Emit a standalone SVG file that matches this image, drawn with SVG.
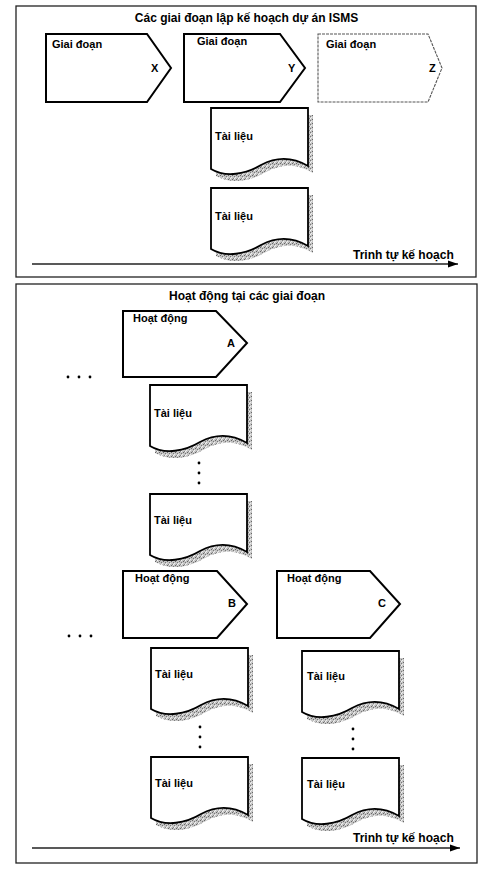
<svg xmlns="http://www.w3.org/2000/svg" width="484" height="875" viewBox="0 0 484 875">
<style>
.panel{fill:none;stroke:#222;stroke-width:1.3}
.pent{fill:#fff;stroke:#000;stroke-width:2}
.pentZ{fill:#fff;stroke:#555;stroke-width:1.1;stroke-dasharray:3 1}
.doc{fill:#fff;stroke:#000;stroke-width:1.8}
.shadow{fill:url(#stip);stroke:none}
.lbl{font-family:"Liberation Sans",Arial,sans-serif;font-weight:bold;font-size:11px;fill:#000}
.ttl{font-family:"Liberation Sans",Arial,sans-serif;font-weight:bold;font-size:12px;fill:#000}
.line{stroke:#222;stroke-width:1.3;fill:none}
.dot{fill:#000}
</style>
<defs>
<pattern id="stip" width="4" height="4" patternUnits="userSpaceOnUse">
<rect width="4" height="4" fill="#c4c4c4"/>
<rect x="0" y="0" width="1" height="1" fill="#666"/>
<rect x="2" y="1" width="1" height="1" fill="#777"/>
<rect x="1" y="3" width="1" height="1" fill="#888"/>
<rect x="3" y="2" width="1" height="1" fill="#eee"/>
<rect x="2" y="3" width="1" height="1" fill="#f4f4f4"/>
</pattern>
<path id="docShape" d="M0,0 H97 V58 C80,48 65,49 50,57 C35,66 15,70 0,61 Z"/>
<marker id="arr" markerWidth="10" markerHeight="8" refX="10" refY="4" orient="auto" markerUnits="userSpaceOnUse">
<path d="M0,0.5 L10,4 L0,7.5 Z" fill="#000"/>
</marker>
</defs>

<g id="panel-top">
<rect class="panel" x="16" y="6" width="460" height="271"/>
<text class="ttl" x="246.5" y="22" text-anchor="middle">Các giai đoạn lập kế hoạch dự án ISMS</text>
</g>
<g id="panel-bottom">
<rect class="panel" x="16" y="284" width="461" height="579"/>
<text class="ttl" x="247" y="300" text-anchor="middle">Hoạt động tại các giai đoạn</text>
</g>

<g id="stage-x">
<polygon class="pent" points="46,34 147,34 171,68 147,102 46,102"/>
<text class="lbl" x="52" y="48">Giai đoạn</text>
<text class="lbl" x="151" y="72">X</text>
</g>
<g id="stage-y">
<polygon class="pent" points="184,34 280,34 305,68 280,102 184,102"/>
<text class="lbl" x="197" y="45">Giai đoạn</text>
<text class="lbl" x="288" y="72">Y</text>
</g>
<g id="stage-z">
<polygon class="pentZ" points="318,34 428,34 442,68 428,102 318,102"/>
<text class="lbl" x="326" y="48">Giai đoạn</text>
<text class="lbl" x="429" y="72">Z</text>
</g>

<g id="doc-top-1" transform="translate(211,108)">
<use href="#docShape" class="shadow" transform="translate(5,7)"/>
<use href="#docShape" class="doc"/>
<text class="lbl" x="4" y="32">Tài liệu</text>
</g>
<g id="doc-top-2" transform="translate(211,188)">
<use href="#docShape" class="shadow" transform="translate(5,7)"/>
<use href="#docShape" class="doc"/>
<text class="lbl" x="4" y="32">Tài liệu</text>
</g>

<g id="act-a">
<polygon class="pent" points="123,311 216,311 247,343 216,377 123,377"/>
<text class="lbl" x="133" y="322">Hoạt động</text>
<text class="lbl" x="227" y="347">A</text>
</g>
<g id="doc-a-1" transform="translate(150,385)">
<use href="#docShape" class="shadow" transform="translate(5,7)"/>
<use href="#docShape" class="doc"/>
<text class="lbl" x="4" y="32">Tài liệu</text>
</g>
<g id="doc-a-2" transform="translate(150,494)">
<use href="#docShape" class="shadow" transform="translate(5,7)"/>
<use href="#docShape" class="doc"/>
<text class="lbl" x="4" y="30">Tài liệu</text>
</g>

<g id="act-b">
<polygon class="pent" points="123,571 217,571 247,604 217,638 123,638"/>
<text class="lbl" x="135" y="582">Hoạt động</text>
<text class="lbl" x="228" y="607">B</text>
</g>
<g id="act-c">
<polygon class="pent" points="277,571 370,571 400,604 370,638 277,638"/>
<text class="lbl" x="287" y="582">Hoạt động</text>
<text class="lbl" x="378" y="607">C</text>
</g>
<g id="doc-b-1" transform="translate(151,648)">
<use href="#docShape" class="shadow" transform="translate(5,7)"/>
<use href="#docShape" class="doc"/>
<text class="lbl" x="4" y="30">Tài liệu</text>
</g>
<g id="doc-b-2" transform="translate(151,757)">
<use href="#docShape" class="shadow" transform="translate(5,7)"/>
<use href="#docShape" class="doc"/>
<text class="lbl" x="4" y="30">Tài liệu</text>
</g>
<g id="doc-c-1" transform="translate(302,651)">
<use href="#docShape" class="shadow" transform="translate(5,7)"/>
<use href="#docShape" class="doc"/>
<text class="lbl" x="5" y="29">Tài liệu</text>
</g>
<g id="doc-c-2" transform="translate(302,758)">
<use href="#docShape" class="shadow" transform="translate(5,7)"/>
<use href="#docShape" class="doc"/>
<text class="lbl" x="5" y="30">Tài liệu</text>
</g>

<g id="ellipses">
<circle class="dot" cx="68" cy="377" r="1.4"/>
<circle class="dot" cx="79" cy="377" r="1.4"/>
<circle class="dot" cx="90" cy="377" r="1.4"/>
<circle class="dot" cx="69" cy="636" r="1.4"/>
<circle class="dot" cx="80" cy="636" r="1.4"/>
<circle class="dot" cx="91" cy="636" r="1.4"/>
<circle class="dot" cx="199" cy="463" r="1.4"/>
<circle class="dot" cx="199" cy="473" r="1.4"/>
<circle class="dot" cx="199" cy="483" r="1.4"/>
<circle class="dot" cx="200" cy="727" r="1.4"/>
<circle class="dot" cx="200" cy="737" r="1.4"/>
<circle class="dot" cx="200" cy="747" r="1.4"/>
<circle class="dot" cx="353" cy="729" r="1.4"/>
<circle class="dot" cx="353" cy="739" r="1.4"/>
<circle class="dot" cx="353" cy="749" r="1.4"/>
</g>

<g id="connectors">
<line class="line" x1="32" y1="264" x2="458" y2="264" marker-end="url(#arr)"/>
<text class="ttl" x="353" y="259">Trinh tự kế hoạch</text>
<line class="line" x1="32" y1="848" x2="460" y2="848" marker-end="url(#arr)"/>
<text class="ttl" x="353" y="842">Trinh tự kế hoạch</text>
</g>
</svg>
